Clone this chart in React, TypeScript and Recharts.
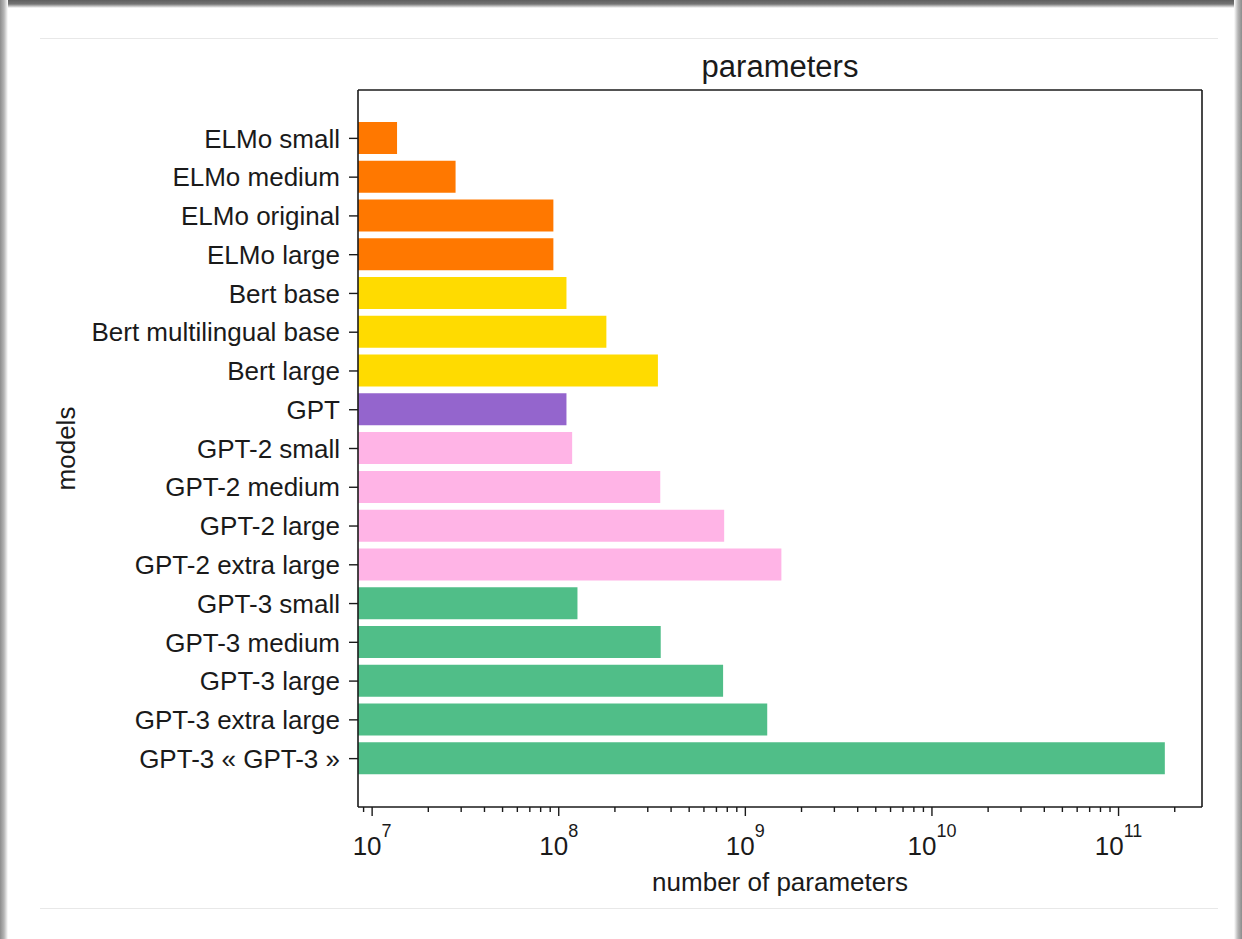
import { BarChart, Bar, XAxis, YAxis, Cell } from 'recharts';

// bar labels, top to bottom
const models = [
  'ELMo small',
  'ELMo medium',
  'ELMo original',
  'ELMo large',
  'Bert base',
  'Bert multilingual base',
  'Bert large',
  'GPT',
  'GPT-2 small',
  'GPT-2 medium',
  'GPT-2 large',
  'GPT-2 extra large',
  'GPT-3 small',
  'GPT-3 medium',
  'GPT-3 large',
  'GPT-3 extra large',
  'GPT-3 « GPT-3 »',
];

// number of parameters
const parameters = [
  1.36e7, 2.8e7, 9.36e7, 9.36e7, 1.1e8, 1.8e8, 3.4e8, 1.1e8, 1.18e8, 3.5e8, 7.7e8, 1.56e9, 1.26e8, 3.52e8, 7.6e8,
  1.31e9, 1.77e11,
];

const families = [
  'ELMo', 'ELMo', 'ELMo', 'ELMo',
  'Bert', 'Bert', 'Bert',
  'GPT',
  'GPT-2', 'GPT-2', 'GPT-2', 'GPT-2',
  'GPT-3', 'GPT-3', 'GPT-3', 'GPT-3', 'GPT-3',
];

const familyColors: Record<string, string> = {
  ELMo: '#FF7800',
  Bert: '#FFDB00',
  GPT: '#9465CD',
  'GPT-2': '#FFB4E6',
  'GPT-3': '#50BE88',
};

const majorTicks = [1e7, 1e8, 1e9, 1e10, 1e11];
const minorSteps = [2, 3, 4, 5, 6, 7, 8, 9];
const xDomain = [8.4e6, 2.8e11];

const FONT = '"Liberation Sans", Arial, Helvetica, sans-serif';
const INK = '#1a1a1a';

const data = models.map((name, i) => ({ name, params: parameters[i], family: families[i] }));

// minor ticks at 2..9 x each decade, kept inside the domain
const allTicks = [9e6, ...majorTicks.flatMap((m) => [m, ...minorSteps.map((s) => m * s)])].filter(
  (t) => t >= xDomain[0] && t <= xDomain[1]
);

function LogTick(props: any) {
  const { x, y, payload } = props;
  const v = payload.value;
  const exp = Math.round(Math.log10(v));
  const major = Math.abs(Math.pow(10, exp) - v) < v * 1e-6;
  return (
    <g>
      <line x1={x} x2={x} y1={y} y2={y + (major ? 9 : 5)} stroke={INK} strokeWidth={1.4} />
      {major && (
        <text x={x} y={y + 48} textAnchor="middle" fontSize={26} fill={INK} fontFamily={FONT}>
          10
          <tspan dy={-18} fontSize={18}>
            {exp}
          </tspan>
        </text>
      )}
    </g>
  );
}

export default function App() {
  return (
    <div style={{ position: 'absolute', left: 0, top: 0, width: 1242, height: 939, background: '#fff', overflow: 'hidden' }}>
      {/* screenshot frame */}
      <div style={{ position: 'absolute', left: 0, top: 0, width: 1242, height: 8, background: 'linear-gradient(to bottom, #5f5f5f 0px, #747474 4px, #ffffff 8px)' }} />
      <div style={{ position: 'absolute', left: 0, top: 0, width: 8, height: 939, background: 'linear-gradient(to right, #8c8c8c 0px, #b5b5b5 4px, #ffffff 8px)' }} />
      <div style={{ position: 'absolute', right: 0, top: 0, width: 8, height: 939, background: 'linear-gradient(to left, #8c8c8c 0px, #b5b5b5 4px, #ffffff 8px)' }} />
      <div style={{ position: 'absolute', left: 40, top: 38, width: 1178, height: 1, background: '#e8e8e8' }} />
      <div style={{ position: 'absolute', left: 40, top: 908, width: 1178, height: 1, background: '#e8e8e8' }} />

      <div style={{ position: 'absolute', left: 0, top: 0 }}>
        <BarChart
          width={1242}
          height={939}
          data={data}
          layout="vertical"
          margin={{ top: 89, right: 39, bottom: 37, left: 158 }}
        >
          <XAxis
            type="number"
            dataKey="params"
            scale="log"
            domain={xDomain}
            allowDataOverflow
            ticks={allTicks}
            interval={0}
            tick={<LogTick />}
            tickLine={false}
            tickSize={0}
            tickMargin={0}
            height={95}
            axisLine={{ stroke: INK, strokeWidth: 1.6 }}
            label={{
              content: ({ viewBox }: any) => (
                <text x={viewBox.x + viewBox.width / 2} y={viewBox.y + 84} textAnchor="middle" fontSize={26} fill={INK} fontFamily={FONT}>
                  number of parameters
                </text>
              ),
            }}
          />
          {/* top edge of the frame, carries the title */}
          <XAxis
            xAxisId="top"
            orientation="top"
            type="number"
            scale="log"
            domain={xDomain}
            allowDataOverflow
            tick={false}
            tickLine={false}
            height={1}
            axisLine={{ stroke: INK, strokeWidth: 1.6 }}
            label={{
              content: ({ viewBox }: any) => (
                <text x={viewBox.x + viewBox.width / 2} y={viewBox.y - 12} textAnchor="middle" fontSize={31} fill={INK} fontFamily={FONT}>
                  parameters
                </text>
              ),
            }}
          />
          <YAxis
            type="category"
            dataKey="name"
            width={200}
            interval={0}
            padding={{ top: 29, bottom: 29 }}
            tickSize={9}
            tickMargin={9}
            tickLine={{ stroke: INK, strokeWidth: 1.4 }}
            axisLine={{ stroke: INK, strokeWidth: 1.6 }}
            tick={{ fontSize: 26, fill: INK, fontFamily: FONT }}
            label={{
              content: ({ viewBox }: any) => (
                <text
                  x={viewBox.x - 83}
                  y={viewBox.y + viewBox.height / 2}
                  transform={`rotate(-90, ${viewBox.x - 83}, ${viewBox.y + viewBox.height / 2})`}
                  textAnchor="middle"
                  fontSize={26}
                  fill={INK}
                  fontFamily={FONT}
                >
                  models
                </text>
              ),
            }}
          />
          {/* right edge of the frame */}
          <YAxis
            yAxisId="right"
            orientation="right"
            type="number"
            domain={[0, 1]}
            width={1}
            tick={false}
            tickLine={false}
            axisLine={{ stroke: INK, strokeWidth: 1.6 }}
          />
          <Bar dataKey="params" barSize={32} isAnimationActive={false}>
            {data.map((d) => (
              <Cell key={d.name} fill={familyColors[d.family]} />
            ))}
          </Bar>
        </BarChart>
      </div>
    </div>
  );
}
